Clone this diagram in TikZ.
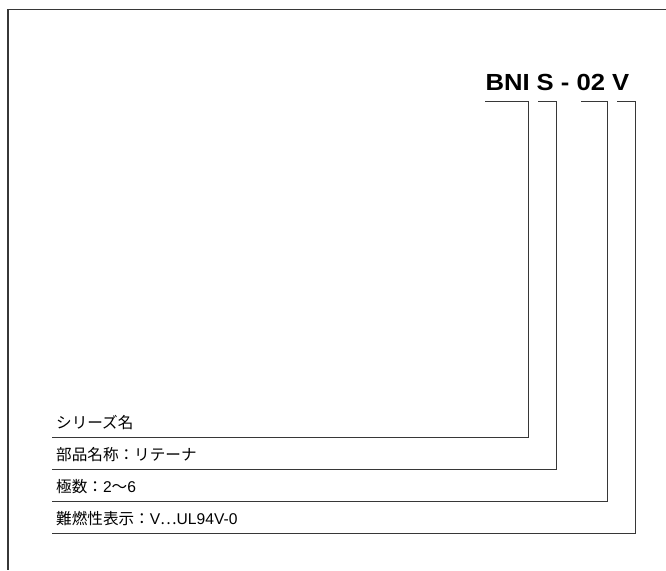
\documentclass[tikz,border=0pt]{standalone}
\usepackage{fontspec}
\usepackage{graphicx}
\setmainfont{Liberation Sans}
\newfontfamily\jpfont{Noto Sans CJK JP}
\newcommand{\jp}[1]{{\jpfont #1}}
\definecolor{linegray}{RGB}{55,55,55}
\tikzset{
  frameline/.style={draw=linegray, line width=1.1pt},
  bracket/.style={draw=linegray, line width=1pt, line join=miter},
  codetext/.style={inner sep=0pt, anchor=base west, font=\fontsize{23.3}{26}\selectfont\bfseries},
  rowtext/.style={inner sep=0pt, anchor=west, text height=0.88em, text depth=0.12em, font=\fontsize{15.6}{18}\selectfont}
}
\begin{document}
\begin{tikzpicture}[x=1pt,y=-1pt]
\useasboundingbox (0,0) rectangle (666,570);
\fill[white] (0,0) rectangle (666,570);
% outer frame (top and left edges)
\coordinate (fa) at (666,9.5);
\coordinate (fb) at (8,9.5);
\coordinate (fc) at (8,570);
\draw[frameline] (fa) -- (fb) -- (fc);
% code
\node[codetext] (code) at (485.3,90.7) {\scalebox{1.1}[1]{BNI S - 02 V}};
% rows
\node[rowtext] (r1) at (56,425) {\jp{シリーズ名}};
\node[rowtext] (r2) at (56,457) {\jp{部品名称：リテーナ}};
\node[rowtext] (r3) at (56,489) {\jp{極数：}2\jp{〜}6};
\node[rowtext] (r4) at (56,521) {\jp{難燃性表示：}V\jp{⋯}UL94V-0};
% bracket corners
\coordinate (s1) at (485,101.5);  \coordinate (c1) at (528.5,101.5);
\coordinate (d1) at (528.5,437);  \coordinate (e1) at (52,437);
\coordinate (s2) at (538,101.5);  \coordinate (c2) at (556.5,101.5);
\coordinate (d2) at (556.5,469);  \coordinate (e2) at (52,469);
\coordinate (s3) at (581,101.5);  \coordinate (c3) at (607,101.5);
\coordinate (d3) at (607,501);    \coordinate (e3) at (52,501);
\coordinate (s4) at (617,101.5);  \coordinate (c4) at (635.5,101.5);
\coordinate (d4) at (635.5,533);  \coordinate (e4) at (52,533);
\draw[bracket] (s1) -- (c1) -- (d1) -- (e1);
\draw[bracket] (s2) -- (c2) -- (d2) -- (e2);
\draw[bracket] (s3) -- (c3) -- (d3) -- (e3);
\draw[bracket] (s4) -- (c4) -- (d4) -- (e4);
\end{tikzpicture}
\end{document}
